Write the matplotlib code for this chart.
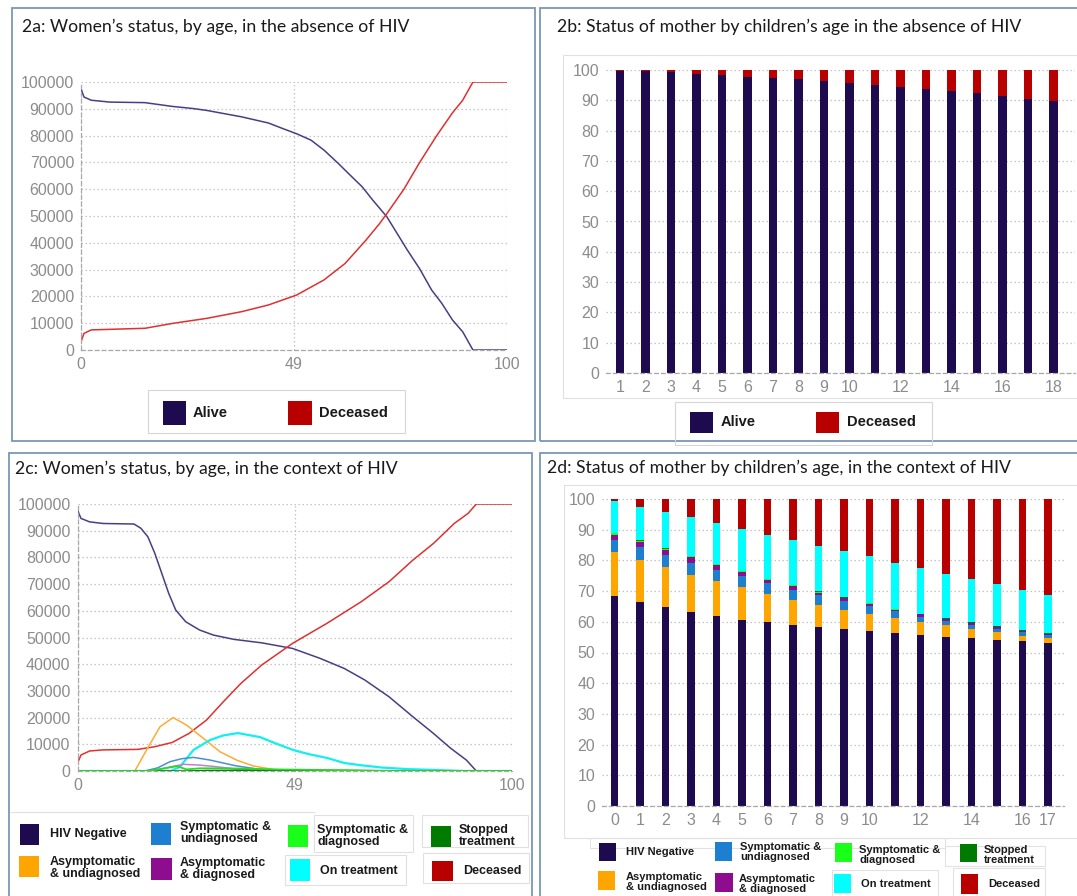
import matplotlib
matplotlib.use("Agg")
import matplotlib.pyplot as plt
from matplotlib.patches import Rectangle

# ---- data: 2a, women in the absence of HIV ----
alive_age = [0, 0.7, 2.4, 6.8, 15, 21.4, 26.3, 29.5, 37.7, 44, 47.4, 50.6, 54, 57.1, 60.4, 63.6, 66, 68.5, 71.8,
             74.2, 76.6, 79.5, 82.3, 84.7, 87.2, 89.6, 92, 100]
alive_val = [97500, 94400, 93200, 92500, 92300, 90900, 90100, 89400, 87000, 84700, 82600, 80700, 78300, 74500,
             69600, 64600, 60900, 55900, 49700, 43500, 37300, 30300, 22400, 17400, 11200, 6800, 0, 0]
dead_age = [0, 0.7, 2.4, 15, 21.4, 29.5, 37.7, 44, 50.6, 57, 62, 66.9, 70.1, 71.8, 75.8, 79.5, 83.5, 87.2, 89.6,
            92, 100]
dead_val = [3100, 6200, 7500, 8100, 9900, 11800, 14300, 16800, 20500, 26100, 32300, 41000, 47200, 50900, 60000,
            70000, 80000, 88500, 93200, 100000, 100000]

# ---- data: 2b, mothers by child age, no HIV (%) ----
child_age_b = list(range(1, 19))
mother_alive_b = [99.8, 99.7, 99.2, 98.8, 98.4, 97.8, 97.4, 96.9, 96.4, 95.8, 95.2, 94.5, 93.8, 93.2, 92.3, 91.5, 90.5, 89.7]
mother_dead_b = [round(100 - v, 1) for v in mother_alive_b]
ticks_b = [1, 2, 3, 4, 5, 6, 7, 8, 9, 10, 12, 14, 16, 18]

# ---- data: 2c, women in the context of HIV ----
neg_age = [0, 0.8, 2.8, 5.9, 13, 14.6, 16.2, 17.8, 19.4, 21, 22.6, 24.9, 28.1, 31.3, 36, 42.4, 49.5, 55.8, 61.4,
           66.1, 71.7, 77.2, 81.9, 85.9, 89.5, 91.8, 100]
neg_val = [97700, 94600, 93300, 92700, 92500, 90900, 87700, 81500, 74000, 66500, 60300, 55900, 52800, 50900,
           49300, 48000, 45900, 42200, 38400, 34100, 27800, 20300, 14100, 8500, 4100, 0, 0]
asym_u_age = [0, 13.2, 15.9, 19, 22, 25.1, 29, 32.8, 36.6, 40.4, 45, 49.5, 100]
asym_u_val = [0, 0, 7900, 16600, 20000, 17200, 12200, 7200, 4100, 1900, 600, 0, 0]
sym_u_age = [0, 15.5, 18.5, 21.3, 24, 26.7, 30.5, 33.5, 36.6, 42, 47, 100]
sym_u_val = [0, 0, 1200, 3500, 4600, 5100, 4100, 3000, 1900, 600, 0, 0]
asym_d_age = [0, 17, 21.3, 24.4, 28.2, 32, 36.6, 44, 100]
asym_d_val = [0, 0, 1500, 2500, 2200, 1600, 700, 0, 0]
sym_d_age = [0, 16, 19, 22.9, 25.1, 28.2, 32.8, 38, 45.5, 55, 61.4, 73, 100]
sym_d_val = [0, 0, 700, 1800, 600, 1000, 1000, 900, 600, 400, 300, 0, 0]
stop_age = [0, 25, 30, 40, 55, 70, 80, 100]
stop_val = [0, 0, 200, 300, 250, 100, 0, 0]
treat_age = [0, 21.5, 23.6, 26.7, 30.5, 33.5, 36.9, 42, 45.5, 49.6, 53.5, 57.4, 61.4, 65, 70, 76, 82, 89, 100]
treat_val = [0, 0, 1600, 7900, 11600, 13300, 14200, 12700, 10400, 7900, 6200, 4900, 3000, 2200, 1300, 700, 400, 0, 0]
dec_c_age = [0, 0.8, 2.8, 5.9, 13.9, 17.8, 21.8, 25.7, 29.7, 33.6, 37.6, 42.4, 49.5, 57.4, 65.3, 71.7, 77.2,
             81.9, 86.7, 89.9, 91.8, 100]
dec_c_val = [2900, 6000, 7500, 7900, 8100, 9100, 10700, 14100, 19100, 26000, 32800, 39700, 47800, 55300, 63400,
             70900, 79000, 85200, 92700, 96500, 100000, 100000]

# ---- data: 2d, mothers by child age, with HIV (%) ----
child_age_d = list(range(0, 18))
ticks_d = [0, 1, 2, 3, 4, 5, 6, 7, 8, 9, 10, 12, 14, 16, 17]
d_neg = [68.5, 66.4, 64.7, 63.2, 62.0, 60.7, 59.9, 59.0, 58.3, 57.6, 57.0, 56.4, 55.8, 55.2, 54.8, 54.1, 53.6, 53.0]
d_asym_u = [14.2, 13.8, 13.1, 12.1, 11.2, 10.5, 9.2, 8.2, 7.2, 6.3, 5.6, 4.8, 4.1, 3.6, 2.9, 2.5, 1.9, 1.7]
d_sym_u = [3.8, 4.1, 3.8, 4.0, 3.8, 3.6, 3.5, 3.2, 3.1, 2.9, 2.6, 2.2, 1.8, 1.5, 1.3, 1.2, 1.1, 1.0]
d_asym_d = [1.9, 1.7, 1.9, 1.8, 1.5, 1.3, 1.1, 1.1, 0.9, 0.8, 0.7, 0.5, 0.7, 0.6, 0.6, 0.5, 0.4, 0.3]
d_sym_d = [0.5, 0.4, 0.3, 0.3, 0.3, 0.3, 0.3, 0.4, 0.3, 0.3, 0.2, 0.2, 0.2, 0.1, 0.1, 0.1, 0.1, 0.1]
d_stop = [0.1] * 18
d_treat = [10.2, 10.9, 11.9, 12.5, 13.3, 13.8, 14.3, 14.7, 14.7, 14.9, 15.1, 14.9, 14.7, 14.4, 14.1, 13.8, 13.2, 12.6]
d_dead = [0.8, 2.6, 4.2, 6.0, 7.8, 9.7, 11.6, 13.3, 15.4, 17.1, 18.7, 20.9, 22.6, 24.5, 26.1, 27.7, 29.6, 31.2]

# x tick labels on the age axes (the middle label sits at the half-way point)
age_tick_pos = [0, 50, 100]
age_tick_lab = ["0", "49", "100"]

NAVY = "#1e0a4e"
RED = "#b80000"
ORANGE = "#ffa500"
BLUE = "#1c7fd0"
PURPLE = "#8e0c8e"
GREEN = "#1aff1a"
DKGREEN = "#007a00"
CYAN = "#00ffff"
TICK = "#8c8c8c"
GRID = "#c4c4c4"

W, H = 1077, 896
fig = plt.figure(figsize=(W / 100, H / 100), dpi=100)


def rect(x0, y0, x1, y1):
    return [x0 / W, 1 - y1 / H, (x1 - x0) / W, (y1 - y0) / H]


def box(x0, y0, x1, y1, color, fill=False, lw=0.8):
    fig.patches.append(Rectangle((x0 / W, 1 - y1 / H), (x1 - x0) / W, (y1 - y0) / H, transform=fig.transFigure,
                                 fill=fill, facecolor=color if fill else "none",
                                 edgecolor="none" if fill else color, lw=lw))


def item(sx0, sy0, sx1, sy1, color, tx, ty, text, size):
    box(sx0, sy0, sx1, sy1, color, fill=True)
    fig.text(tx / W, 1 - ty / H, text, fontsize=size, fontweight="bold", color="#1a1a1a",
             family="Liberation Sans", ha="left", va="center", linespacing=0.9)


def title(x, y, s):
    fig.text(x / W, 1 - y / H, s, fontsize=12.7, family="Lato", color="#1a1a1a", ha="left", va="center")


def style_line_ax(ax):
    ax.set_xlim(0, 100)
    ax.set_ylim(0, 100000)
    ax.set_xticks(age_tick_pos, age_tick_lab)
    ax.set_yticks(range(0, 100001, 10000))
    ax.grid(True, color=GRID, linestyle=(0, (1.2, 2)), lw=0.9)
    for s in ["top", "right"]:
        ax.spines[s].set_visible(False)
    for s in ["left", "bottom"]:
        ax.spines[s].set_color("#a8a8a8")
        ax.spines[s].set_linestyle((0, (3, 2.5)))
        ax.spines[s].set_linewidth(0.9)
    ax.tick_params(length=0, labelsize=11.5, labelcolor=TICK, pad=5)
    for lab in ax.get_xticklabels() + ax.get_yticklabels():
        lab.set_family("Liberation Sans")
    ax.set_facecolor("none")


def style_bar_ax(ax, xt, xlim):
    ax.set_xlim(*xlim)
    ax.set_ylim(0, 100)
    ax.set_xticks(xt)
    ax.set_yticks(range(0, 101, 10))
    ax.grid(True, axis="y", color=GRID, linestyle=(0, (1.2, 2)), lw=0.9)
    ax.set_axisbelow(True)
    for s in ["top", "right", "left"]:
        ax.spines[s].set_visible(False)
    ax.spines["bottom"].set_color("#a8a8a8")
    ax.spines["bottom"].set_linestyle((0, (3, 2.5)))
    ax.spines["bottom"].set_linewidth(0.9)
    ax.tick_params(length=0, labelsize=11.5, labelcolor=TICK, pad=5)
    for lab in ax.get_xticklabels() + ax.get_yticklabels():
        lab.set_family("Liberation Sans")
    ax.set_facecolor("none")


# panel frames
FRAME = "#7a96b8"
box(12, 8, 535, 441, FRAME, lw=1.3)
box(540, 8, 1080, 441, FRAME, lw=1.3)
box(9, 453, 532, 900, FRAME, lw=1.3)
box(540, 453, 1080, 900, FRAME, lw=1.3)

# chart-area boxes
box(563, 55, 1080, 398, "#e0e0e0", lw=0.8)
box(564, 485, 1080, 838, "#e0e0e0", lw=0.8)

# ---------------- 2a ----------------
title(22, 27, "2a: Women\u2019s status, by age, in the absence of HIV")
ax_a = fig.add_axes(rect(81, 82, 507, 350))
ax_a.plot(alive_age, alive_val, color="#4a3d85", lw=1.1)
ax_a.plot(dead_age, dead_val, color="#e03030", lw=1.1)
style_line_ax(ax_a)
box(148, 390, 405, 433, "#d6d6d6")
item(163, 401, 186, 425, NAVY, 193, 413, "Alive", 10.5)
item(288, 401, 312, 425, RED, 319, 413, "Deceased", 10.5)

# ---------------- 2b ----------------
title(557, 27, "2b: Status of mother by children\u2019s age in the absence of HIV")
ax_b = fig.add_axes(rect(606, 70, 1075, 373))
ax_b.bar(child_age_b, mother_alive_b, width=0.32, color=NAVY)
ax_b.bar(child_age_b, mother_dead_b, bottom=mother_alive_b, width=0.32, color=RED)
style_bar_ax(ax_b, ticks_b, (0.45, 18.84))
box(675, 402, 932, 445, "#d6d6d6")
item(690, 412, 713, 433, NAVY, 721, 422, "Alive", 10.5)
item(816, 412, 839, 433, RED, 847, 422, "Deceased", 10.5)

# ---------------- 2c ----------------
title(15, 469, "2c: Women\u2019s status, by age, in the context of HIV")
ax_c = fig.add_axes(rect(77.5, 504, 512, 771))
ax_c.plot(neg_age, neg_val, color="#4a3d85", lw=1.1)
ax_c.plot(dec_c_age, dec_c_val, color="#e03030", lw=1.1)
ax_c.plot(asym_u_age, asym_u_val, color="#ffaa33", lw=1.1)
ax_c.plot(treat_age, treat_val, color="#10f0f0", lw=1.6)
ax_c.plot(sym_u_age, sym_u_val, color="#4a90d0", lw=1.1)
ax_c.plot(asym_d_age, asym_d_val, color="#c080d0", lw=1.1)
ax_c.plot(stop_age, stop_val, color=DKGREEN, lw=1.1)
ax_c.plot(sym_d_age, sym_d_val, color="#22dd22", lw=1.3)
style_line_ax(ax_c)

for seg in [(10, 812, 315, 812), (314, 815, 413, 852), (422, 815, 528, 847), (423, 853, 529, 883),
            (285, 855, 406, 885)]:
    box(*seg, "#e0e0e0")
item(20, 824, 39, 845, NAVY, 50, 834, "HIV Negative", 9)
item(19, 856, 39, 877, ORANGE, 50, 868, "Asymptomatic\n& undiagnosed", 9)
item(151, 823, 171, 845, BLUE, 180, 833, "Symptomatic &\nundiagnosed", 9)
item(151, 858, 172, 880, PURPLE, 180, 869, "Asymptomatic\n& diagnosed", 9)
item(288, 825, 308, 847, GREEN, 317, 836, "Symptomatic &\ndiagnosed", 9)
item(290, 859, 310, 881, CYAN, 320, 871, "On treatment", 9)
item(431, 826, 451, 847, DKGREEN, 459, 836, "Stopped\ntreatment", 9)
item(432, 861, 453, 881, RED, 463, 871, "Deceased", 9)

# ---------------- 2d ----------------
title(547, 468, "2d: Status of mother by children\u2019s age, in the context of HIV")
ax_d = fig.add_axes(rect(602, 499, 1064, 806))
series_d = [(d_neg, NAVY), (d_asym_u, ORANGE), (d_sym_u, BLUE), (d_asym_d, PURPLE), (d_sym_d, GREEN),
            (d_stop, DKGREEN), (d_treat, CYAN), (d_dead, RED)]
bottom = [0.0] * len(child_age_d)
for vals, col in series_d:
    ax_d.bar(child_age_d, vals, bottom=bottom, width=0.3, color=col)
    bottom = [b + v for b, v in zip(bottom, vals)]
style_bar_ax(ax_d, ticks_d, (-0.49, 17.63))

for seg in [(590, 838, 945, 848), (945, 846, 1045, 866), (832, 870, 938, 900), (953, 868, 1045, 900)]:
    box(*seg, "#e2e2e2")
item(599, 843, 616, 861, NAVY, 626, 852, "HIV Negative", 8)
item(598, 871, 615, 890, ORANGE, 626, 882, "Asymptomatic\n& undiagnosed", 8)
item(715, 842, 732, 861, BLUE, 740, 852, "Symptomatic &\nundiagnosed", 8)
item(715, 873, 733, 892, PURPLE, 739, 884, "Asymptomatic\n& diagnosed", 8)
item(835, 843, 852, 862, GREEN, 859, 855, "Symptomatic &\ndiagnosed", 8)
item(834, 874, 851, 893, CYAN, 861, 884, "On treatment", 8)
item(960, 844, 977, 862, DKGREEN, 984, 855, "Stopped\ntreatment", 8)
item(961, 874, 978, 894, RED, 988, 884, "Deceased", 8)

fig.savefig("out.png", dpi=100)
